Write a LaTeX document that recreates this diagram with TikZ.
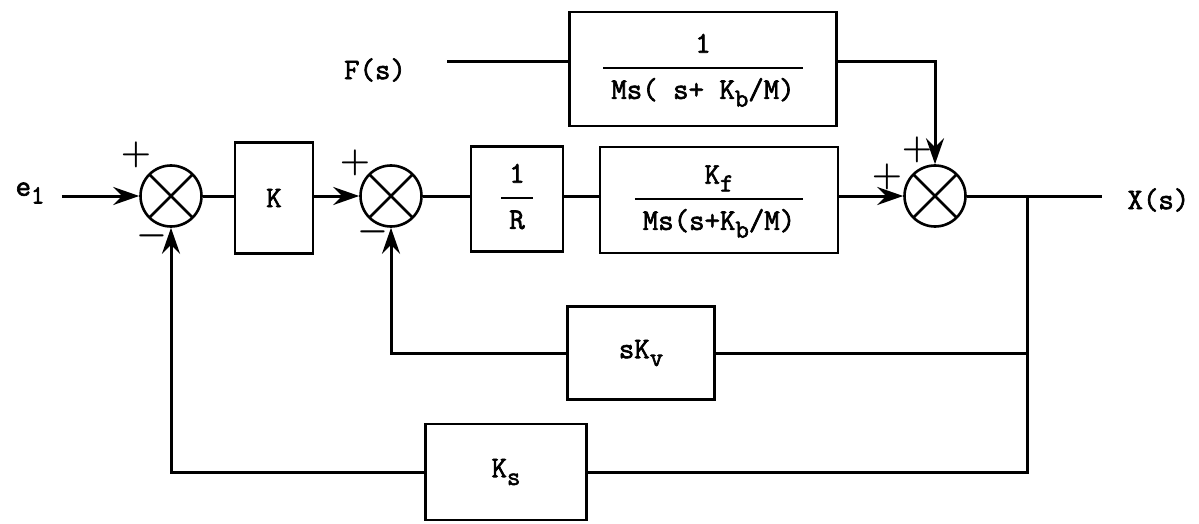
\documentclass[tikz,border=0pt]{standalone}
\usepackage{fontspec}
\newfontfamily\twfont{Latin Modern Mono}[FakeBold=2.2]
\usetikzlibrary{arrows.meta}
\newcommand{\sbs}[1]{\raisebox{-.6ex}{\fontsize{13}{13}\selectfont#1}}
\newcommand{\blkfrac}[2]{\begin{tabular}{@{\hspace{4pt}}c@{\hspace{4pt}}}#1\\[2pt]\hline\rule{0pt}{15pt}#2\end{tabular}}
\setlength{\arrayrulewidth}{1pt}

\begin{document}
\begin{tikzpicture}[x=.5pt,y=-.5pt,line width=1.5pt,
  >={Stealth[length=13pt,width=9pt,inset=4.5pt]},
  blk/.style={draw,rectangle,inner sep=0pt,line width=1.3pt,font=\twfont\fontsize{15}{17}\selectfont},
  sumj/.style={draw,circle,minimum size=30.5pt,inner sep=0pt,line width=1.3pt,
    path picture={\draw[line width=1.3pt] (path picture bounding box.north west)--(path picture bounding box.south east)
      (path picture bounding box.south west)--(path picture bounding box.north east);}},
  lbl/.style={font=\twfont\fontsize{15}{17}\selectfont,inner sep=1pt},
  sgn/.style={font=\fontsize{18}{18}\selectfont\boldmath,inner sep=0pt}]
\path[use as bounding box] (0,0) rectangle (1199,524);

\node[lbl] (e1) at (30,193) {e\sbs{1}};
\node[sumj] (s1) at (171,196) {};
\node[blk,minimum width=39pt,minimum height=55.5pt] (k) at (274,198) {K};
\node[sumj] (s2) at (391,196) {};
\node[blk,minimum width=46pt,minimum height=52.5pt] (r) at (517,199) {\blkfrac{1}{R}};
\node[blk,minimum width=119pt,minimum height=53pt] (kf) at (719,200) {\blkfrac{K\sbs{f}}{Ms(s+K\sbs{b}/M)}};
\node[sumj] (s3) at (935,196) {};
\node[blk,minimum width=133.5pt,minimum height=57pt] (gd) at (703,69) {\blkfrac{1}{Ms( s+ K\sbs{b}/M)}};
\node[lbl] (fs) at (375,70) {F(s)};
\node[blk,minimum width=73.5pt,minimum height=46.5pt] (kv) at (641,353) {sK\sbs{v}};
\node[blk,minimum width=80.5pt,minimum height=48pt] (ks) at (506,472) {K\sbs{s}};
\coordinate (out) at (1102,196);
\coordinate (br) at (1027,196);
\coordinate (fin) at (447,62);
\node[lbl,anchor=west] (xs) at (1124,200) {X(s)};

\draw[->] ([xshift=7pt]e1.east |- s1) -- (s1.west);
\draw (s1.east) -- (s1.east -| k.west);
\draw[->] (s1 -| k.east) -- (s2.west);
\draw (s2.east) -- (s2.east -| r.west);
\draw (s2 -| r.east) -- (s2 -| kf.west);
\draw[->] (s2 -| kf.east) -- (s3.west);
\draw (s3.east) -- (out);
\draw (fin) -- (fin -| gd.west);
\draw[->] (fin -| gd.east) -| (s3.north);
\draw (br) |- (kv.east);
\draw[->] (kv.west) -| (s2.south);
\draw (br) |- (ks.east);
\draw[->] (ks.west) -| (s1.south);

\node[sgn] at (136,155) {$+$};
\node[sgn] at (152,236) {$-$};
\node[sgn] at (355,163) {$+$};
\node[sgn] at (373,232) {$-$};
\node[sgn] at (917,150) {$+$};
\node[sgn] at (887,177) {$+$};
\end{tikzpicture}
\end{document}
